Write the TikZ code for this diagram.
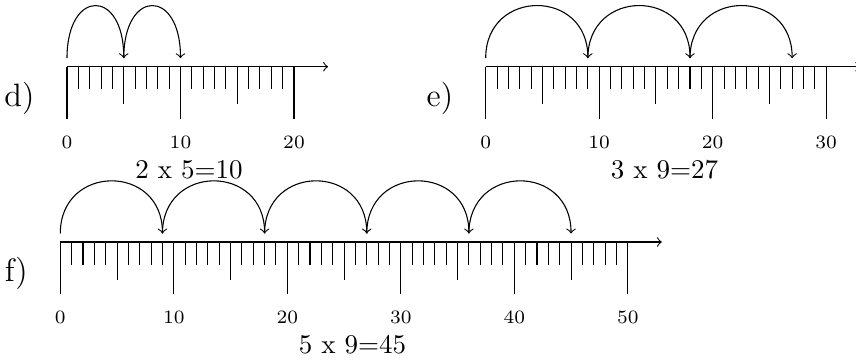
\documentclass[tikz,border=0pt]{standalone}
\begin{document}
\tikzset{
  axisline/.style={line width=0.4pt},
  tickline/.style={line width=0.4pt},
  jumparc/.style={->, line width=0.4pt},
  ticklabel/.style={font=\scriptsize, anchor=base, inner sep=0pt},
  captiontext/.style={font=\normalsize, anchor=base, inner sep=0pt},
  partlabel/.style={font=\large, anchor=base east, inner sep=0pt},
}
% #1 name, #2 ox, #3 oy, #4 max, #5 step, #6 jumps, #7 label, #8 caption
\newcommand\NumLineDraw[8]{%
  \begin{scope}[shift={(#2,#3)}]
    \coordinate (#1-o) at (0,0);
    \pgfmathsetmacro\axlen{(#4+3)*11.35}
    \coordinate (#1-end) at (\axlen,0);
    \draw[axisline,->] (#1-o) -- (#1-end);
    \foreach \i in {0,...,#4} {
      \pgfmathsetmacro\tl{ifthenelse(mod(\i,10)==0,52.3,ifthenelse(mod(\i,5)==0,37.7,22.7))}
      \coordinate (#1-t\i) at (\i*11.35,0);
      \coordinate (#1-b\i) at (\i*11.35,\tl);
      \draw[tickline] (#1-t\i) -- (#1-b\i);
    }
    \foreach \i in {0,10,...,#4} {
      \node[ticklabel] (#1-l\i) at (\i*11.35,81.6) {\i};
    }
    \foreach \j in {0,...,#6} {
      \coordinate (#1-j\j) at (\j*#5*11.35,-8.5);
    }
    \foreach \j [evaluate=\j as \k using int(\j-1)] in {1,...,#6} {
      \draw[jumparc] (#1-j\k) .. controls +(0,-70) and +(0,-70) .. (#1-j\j);
    }
    \pgfmathsetmacro\capx{((#4+3)/2-0.75)*11.35}
    \node[captiontext] (#1-cap) at (\capx,111.5) {#8};
    \node[partlabel] (#1-lab) at (-32,39.5) {#7};
  \end{scope}}
\begin{tikzpicture}[x=0.37037pt,y=-0.37037pt]
  \useasboundingbox (0,0) rectangle (856,363);
  \NumLineDraw{d}{67}{66.7}{20}{5}{2}{d)}{2 x 5=10}
  \NumLineDraw{e}{485.7}{66.7}{30}{9}{3}{e)}{3 x 9=27}
  \NumLineDraw{f}{60.3}{242}{50}{9}{5}{f)}{5 x 9=45}
\end{tikzpicture}
\end{document}
